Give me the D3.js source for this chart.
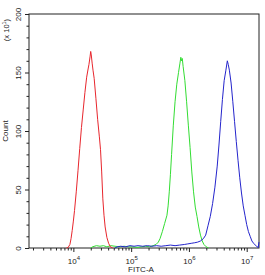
<!DOCTYPE html>
<html>
<head>
<meta charset="utf-8">
<script src="https://cdn.jsdelivr.net/npm/d3@7"></script>
<style>
  body { margin: 0; background: #fff; }
  text { font-family: "Liberation Sans", Arial, sans-serif; fill: #222; }
</style>
</head>
<body>
<div id="chart"></div>
<script>
// histogram data: exponent of FITC-A value and count (x10^1)
var redExp   = [3.88,3.91,3.94,3.96,3.98,4.00,4.02,4.05,4.08,4.11,4.14,4.17,4.20,4.23,4.255,4.27,4.29,4.30,4.31,4.325,4.34,4.36,4.39,4.42,4.45,4.47,4.49,4.51,4.53,4.55,4.58,4.61,4.64,4.68];
var redCount = [0,0.5,3,8,15,23,32,48,66,85,103,118,133,146,153,157,164,168,165,158,152,145,128,110,95,84,65,42,28,18,9,4,1,0];

var greenExp   = [4.30,4.33,4.40,4.46,4.52,4.58,4.65,4.72,4.80,4.88,4.95,5.02,5.10,5.18,5.25,5.32,5.38,5.43,5.47,5.50,5.54,5.58,5.62,5.64,5.66,5.68,5.70,5.73,5.76,5.79,5.82,5.845,5.86,5.87,5.885,5.90,5.93,5.96,5.99,6.02,6.05,6.08,6.11,6.14,6.17,6.20,6.23,6.26,6.30,6.34];
var greenCount = [0,1,2,1.5,2,1,2,1.5,1,1.5,1,1,0.5,1,1.5,1,2,3,5,8,14,21,28,36,48,63,80,105,125,140,150,158,163,160,162,155,143,125,105,86,65,48,35,27,18,11,6,3,1,0];

var blueExp   = [4.72,4.76,4.82,4.90,4.98,5.05,5.12,5.20,5.28,5.36,5.44,5.52,5.60,5.68,5.76,5.84,5.92,5.98,6.04,6.10,6.15,6.20,6.25,6.29,6.33,6.37,6.41,6.45,6.49,6.52,6.55,6.58,6.61,6.64,6.665,6.68,6.70,6.73,6.76,6.79,6.82,6.85,6.88,6.91,6.94,6.97,7.00,7.03,7.06,7.09,7.12,7.15,7.18,7.20,7.212];
var blueCount = [0,1,1.5,1,2,1.5,2,1.5,2,1.5,2,1.5,2,2.5,2,2.5,3,3.5,4,4.5,5,6,8,11,19,27,38,52,70,88,108,127,143,152,160,157,152,141,125,108,91,75,60,47,36,28,20,14,10,6,4,2.5,1,0.5,5];

var xMajor = [1e4, 1e5, 1e6, 1e7];
var yMajor = [0, 50, 100, 150, 200];

var width = 265, height = 275;
var margin = {top: 14, right: 6, bottom: 27, left: 29};
var plotW = width - margin.left - margin.right;
var plotH = height - margin.top - margin.bottom;

var svg = d3.select("#chart").append("svg")
    .attr("width", width)
    .attr("height", height);

var g = svg.append("g")
    .attr("transform", "translate(" + margin.left + "," + margin.top + ")");

var x = d3.scaleLog().domain([Math.pow(10, 3.232), Math.pow(10, 7.213)]).range([0, plotW]);
var y = d3.scaleLinear().domain([0, 200]).range([plotH, 0]);

// minor ticks
var xMinor = [];
for (var k = 3; k <= 7; k++) {
    for (var m = 2; m <= 9; m++) {
        var v = m * Math.pow(10, k);
        if (v >= x.domain()[0] && v <= x.domain()[1]) xMinor.push(v);
    }
}
var yMinor = d3.range(0, 201, 10).filter(function(d){ return d % 50 != 0; });

g.append("g")
    .attr("transform", "translate(0," + plotH + ")")
    .call(d3.axisBottom(x).tickValues(xMinor).tickSize(2.5).tickFormat(""))
    .call(function(s){ s.select(".domain").remove(); });

var xAx = g.append("g")
    .attr("transform", "translate(0," + plotH + ")")
    .call(d3.axisBottom(x).tickValues(xMajor).tickSize(4).tickFormat(""));
xAx.select(".domain").remove();
xAx.selectAll(".tick").each(function(d){
    var t = d3.select(this).append("text")
        .attr("y", 16)
        .attr("text-anchor", "middle")
        .attr("font-size", "8px");
    t.append("tspan").text("10");
    t.append("tspan").attr("dy", -4).attr("font-size", "6px").text(Math.round(Math.log10(d)));
});

g.append("g")
    .call(d3.axisLeft(y).tickValues(yMinor).tickSize(2.5).tickFormat(""))
    .call(function(s){ s.select(".domain").remove(); });

var yAx = g.append("g")
    .call(d3.axisLeft(y).tickValues(yMajor).tickSize(4).tickFormat(""));
yAx.select(".domain").remove();
yAx.selectAll(".tick").append("text")
    .attr("transform", "translate(-8,0) rotate(-90)")
    .attr("text-anchor", "middle")
    .attr("font-size", "8px")
    .text(function(d){ return d; });

g.selectAll(".tick line").attr("stroke", "#222");

// frame
g.append("rect")
    .attr("width", plotW)
    .attr("height", plotH)
    .attr("fill", "none")
    .attr("stroke", "#222")
    .attr("stroke-width", 1);

var line = d3.line()
    .x(function(d){ return x(Math.pow(10, d[0])); })
    .y(function(d){ return y(d[1]); });

var series = [
    {exp: greenExp, count: greenCount, color: "#33dd33"},
    {exp: redExp, count: redCount, color: "#e8262d"},
    {exp: blueExp, count: blueCount, color: "#2424cc"}
];
series.forEach(function(s){
    g.append("path")
        .datum(d3.zip(s.exp, s.count))
        .attr("fill", "none")
        .attr("stroke", s.color)
        .attr("stroke-width", 1)
        .attr("d", line);
});

// labels
svg.append("text")
    .attr("transform", "translate(8," + (margin.top + plotH / 2) + ") rotate(-90)")
    .attr("text-anchor", "middle")
    .attr("font-size", "8px")
    .text("Count");

var ex = svg.append("text")
    .attr("transform", "translate(9,30) rotate(-90)")
    .attr("text-anchor", "middle")
    .attr("font-size", "7.5px");
ex.append("tspan").text("(x 10");
ex.append("tspan").attr("dy", -3).attr("font-size", "5.5px").text("1");
ex.append("tspan").attr("dy", 3).text(")");

svg.append("text")
    .attr("x", margin.left + plotW / 2 - 3)
    .attr("y", 272)
    .attr("text-anchor", "middle")
    .attr("font-size", "8px")
    .text("FITC-A");
</script>
</body>
</html>
